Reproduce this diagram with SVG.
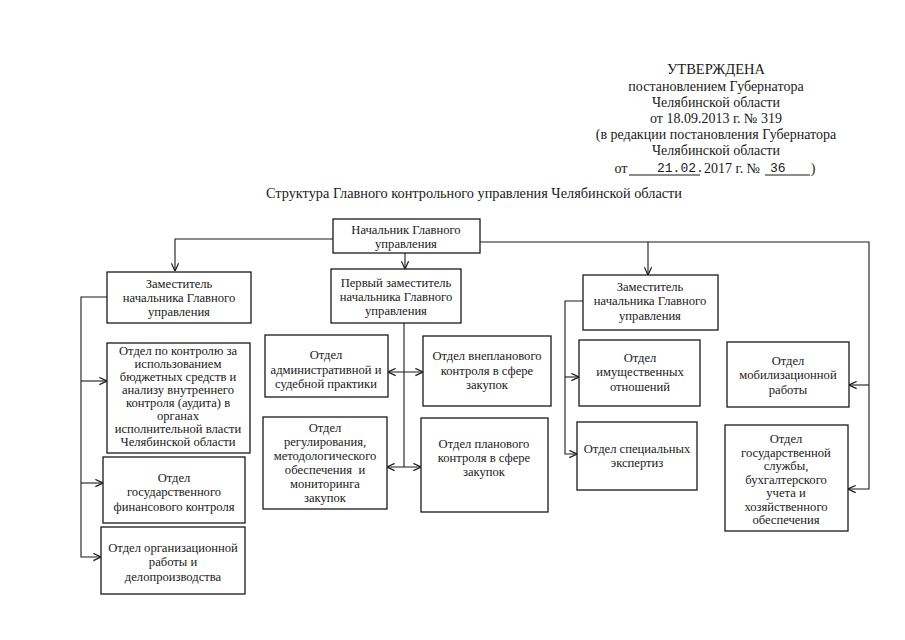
<svg xmlns="http://www.w3.org/2000/svg" width="905" height="640" viewBox="0 0 905 640">
<style>
  .bg{fill:#fff}
  .box{fill:#fff;stroke:#1a1a1a;stroke-width:1.3}
  .t{font-family:"Liberation Serif","Times New Roman",serif;font-size:12.6px;fill:#1a1a1a;text-anchor:middle}
  .h{font-family:"Liberation Serif","Times New Roman",serif;font-size:14px;fill:#1a1a1a;text-anchor:middle}
  .m{font-family:"Liberation Mono","Courier New",monospace;font-size:13px;fill:#1a1a1a}
  .c{fill:none;stroke:#1a1a1a;stroke-width:1.1}
  .u{stroke:#1a1a1a;stroke-width:1}
</style>
<defs>
  <marker id="a" viewBox="0 0 10 10" refX="9.5" refY="5" markerWidth="9" markerHeight="9" markerUnits="userSpaceOnUse" orient="auto-start-reverse">
    <path d="M1,1 L9.5,5 L1,9" fill="none" stroke="#1a1a1a" stroke-width="1.3"/>
  </marker>
</defs>
<rect class="bg" x="0" y="0" width="905" height="640"/>

<g id="header">
  <text class="h" x="716" y="74" style="font-size:14.5px">УТВЕРЖДЕНА</text>
  <text class="h" x="716" y="91">постановлением Губернатора</text>
  <text class="h" x="716" y="107">Челябинской области</text>
  <text class="h" x="716" y="123">от 18.09.2013 г. № 319</text>
  <text class="h" x="716" y="139">(в редакции постановления Губернатора</text>
  <text class="h" x="716" y="155">Челябинской области</text>
  <text class="h" x="621" y="173">от</text>
  <line class="u" x1="629" y1="175" x2="700" y2="175"/>
  <text class="m" x="657" y="172">21.02.</text>
  <text class="h" x="732" y="173">2017 г. №</text>
  <line class="u" x1="765" y1="175" x2="810" y2="175"/>
  <text class="m" x="770" y="172">36</text>
  <text class="h" x="813" y="173">)</text>
</g>

<g id="title">
  <text class="h" x="474" y="198" style="font-size:14.3px">Структура Главного контрольного управления Челябинской области</text>
</g>

<g id="connectors">
  <path class="c" d="M333,239 H175 V271" marker-end="url(#a)"/>
  <path class="c" d="M405,253 V269" marker-end="url(#a)"/>
  <path class="c" d="M480,242 H869 V489 H848" marker-end="url(#a)"/>
  <path class="c" d="M648,242 V275" marker-end="url(#a)"/>
  <path class="c" d="M869,385 H849" marker-end="url(#a)"/>
  <path class="c" d="M404,323 V467"/>
  <path class="c" d="M388,372 H423" marker-start="url(#a)" marker-end="url(#a)"/>
  <path class="c" d="M387,467 H421" marker-start="url(#a)" marker-end="url(#a)"/>
  <path class="c" d="M107,297 H81 V557 H101" marker-end="url(#a)"/>
  <path class="c" d="M81,381 H107" marker-end="url(#a)"/>
  <path class="c" d="M81,483 H103" marker-end="url(#a)"/>
  <path class="c" d="M583,301 H565 V454 H577" marker-end="url(#a)"/>
  <path class="c" d="M565,377 H579" marker-end="url(#a)"/>
</g>

<g id="n-head">
  <rect class="box" x="333" y="219" width="147" height="34"/>
  <text class="t" x="406" y="234">Начальник Главного</text>
  <text class="t" x="406" y="248">управления</text>
</g>

<g id="n-first-deputy">
  <rect class="box" x="331" y="269" width="130" height="54"/>
  <text class="t" x="396" y="287">Первый заместитель</text>
  <text class="t" x="396" y="301">начальника Главного</text>
  <text class="t" x="396" y="315">управления</text>
</g>

<g id="n-deputy-left">
  <rect class="box" x="107" y="272" width="144" height="51"/>
  <text class="t" x="179" y="288">Заместитель</text>
  <text class="t" x="179" y="302">начальника Главного</text>
  <text class="t" x="179" y="316">управления</text>
</g>

<g id="n-deputy-right">
  <rect class="box" x="583" y="275" width="135" height="55"/>
  <text class="t" x="650" y="291">Заместитель</text>
  <text class="t" x="650" y="305">начальника Главного</text>
  <text class="t" x="650" y="320">управления</text>
</g>

<g id="n-budget">
  <rect class="box" x="107" y="343" width="143" height="110"/>
  <text class="t" x="178" y="355">Отдел по контролю за</text>
  <text class="t" x="178" y="368">использованием</text>
  <text class="t" x="178" y="381">бюджетных средств и</text>
  <text class="t" x="178" y="394">анализу внутреннего</text>
  <text class="t" x="178" y="407">контроля (аудита) в</text>
  <text class="t" x="178" y="420">органах</text>
  <text class="t" x="178" y="433">исполнительной власти</text>
  <text class="t" x="178" y="446">Челябинской области</text>
</g>

<g id="n-finance">
  <rect class="box" x="103" y="457" width="142" height="66"/>
  <text class="t" x="174" y="482">Отдел</text>
  <text class="t" x="174" y="496">государственного</text>
  <text class="t" x="174" y="511">финансового контроля</text>
</g>

<g id="n-org">
  <rect class="box" x="101" y="527" width="144" height="67"/>
  <text class="t" x="173" y="552">Отдел организационной</text>
  <text class="t" x="173" y="566">работы и</text>
  <text class="t" x="173" y="581">делопроизводства</text>
</g>

<g id="n-admin">
  <rect class="box" x="265" y="335" width="123" height="62"/>
  <text class="t" x="326" y="359">Отдел</text>
  <text class="t" x="326" y="374">административной и</text>
  <text class="t" x="326" y="388">судебной практики</text>
</g>

<g id="n-unplanned">
  <rect class="box" x="423" y="336" width="128" height="70"/>
  <text class="t" x="487" y="360">Отдел внепланового</text>
  <text class="t" x="487" y="375">контроля в сфере</text>
  <text class="t" x="487" y="389">закупок</text>
</g>

<g id="n-regulation">
  <rect class="box" x="263" y="417" width="124" height="92"/>
  <text class="t" x="325" y="432">Отдел</text>
  <text class="t" x="325" y="446">регулирования,</text>
  <text class="t" x="325" y="460">методологического</text>
  <text class="t" x="325" y="474" xml:space="preserve">обеспечения  и</text>
  <text class="t" x="325" y="488">мониторинга</text>
  <text class="t" x="325" y="502">закупок</text>
</g>

<g id="n-planned">
  <rect class="box" x="421" y="418" width="127" height="94"/>
  <text class="t" x="484" y="448">Отдел планового</text>
  <text class="t" x="484" y="462">контроля в сфере</text>
  <text class="t" x="484" y="476">закупок</text>
</g>

<g id="n-property">
  <rect class="box" x="579" y="340" width="121" height="66"/>
  <text class="t" x="640" y="362">Отдел</text>
  <text class="t" x="640" y="376">имущественных</text>
  <text class="t" x="640" y="391">отношений</text>
</g>

<g id="n-expert">
  <rect class="box" x="577" y="422" width="120" height="68"/>
  <text class="t" x="637" y="453">Отдел специальных</text>
  <text class="t" x="637" y="467">экспертиз</text>
</g>

<g id="n-mobil">
  <rect class="box" x="727" y="342" width="122" height="65"/>
  <text class="t" x="788" y="365">Отдел</text>
  <text class="t" x="788" y="379">мобилизационной</text>
  <text class="t" x="788" y="394">работы</text>
</g>

<g id="n-service">
  <rect class="box" x="725" y="425" width="123" height="106"/>
  <text class="t" x="786" y="443">Отдел</text>
  <text class="t" x="786" y="456.5">государственной</text>
  <text class="t" x="786" y="470">службы,</text>
  <text class="t" x="786" y="483.5">бухгалтерского</text>
  <text class="t" x="786" y="497">учета и</text>
  <text class="t" x="786" y="510.5">хозяйственного</text>
  <text class="t" x="786" y="524">обеспечения</text>
</g>
</svg>
